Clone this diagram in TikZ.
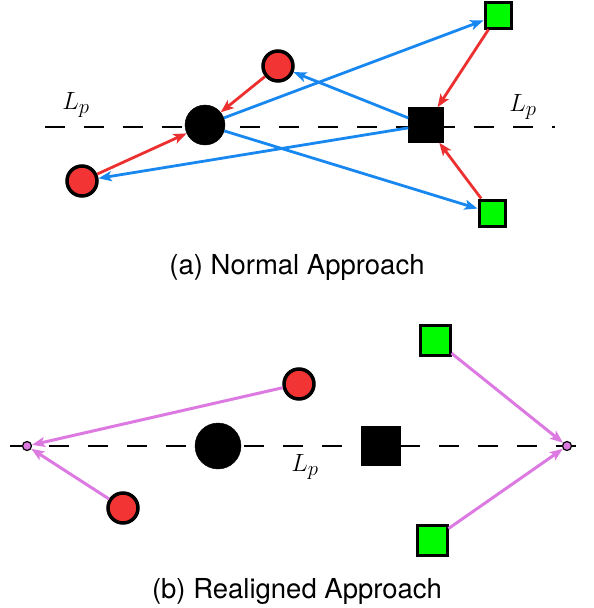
\documentclass[tikz,border=0pt]{standalone}
\usepackage{fontspec}
\setmainfont{TeX Gyre Heros}
\usetikzlibrary{arrows.meta}

\definecolor{ballred}{RGB}{242,52,52}
\definecolor{arrowred}{RGB}{236,48,48}
\definecolor{arrowblue}{RGB}{24,136,240}
\definecolor{boxgreen}{RGB}{0,250,0}
\definecolor{arrowpink}{RGB}{220,122,226}

\begin{document}
\begin{tikzpicture}
[
	              x = 1pt, y = -1pt,
	             >= {Stealth[length=13pt,width=10pt,inset=3pt]},
	   redball/.style = { draw=black, fill=ballred, circle, line width=3.5pt, inner sep=0pt, minimum size=30pt },
	  bigblack/.style = { draw=black, fill=black, circle, inner sep=0pt },
	  blackbox/.style = { draw=black, fill=black, rectangle, inner sep=0pt },
	  greenbox/.style = { draw=black, fill=boxgreen, rectangle, line width=3pt, inner sep=0pt },
	   pinkdot/.style = { draw=black, fill=arrowpink, circle, line width=1.2pt, inner sep=0pt, minimum size=9pt },
	      axis/.style = { line width=1.6pt, dash pattern=on 20pt off 19pt },
	  redarrow/.style = { ->, draw=arrowred, line width=2.8pt },
	 bluearrow/.style = { ->, draw=arrowblue, line width=2.8pt },
	 pinkarrow/.style = { ->, draw=arrowpink, line width=3pt },
	  linename/.style = { draw=none, fill=none, font=\fontsize{28}{28}\selectfont },
	   caption/.style = { draw=none, fill=none, font=\fontsize{27.5}{30}\selectfont }
]

    \useasboundingbox (0,0) rectangle (594,608);

    % (a) normal approach
    \coordinate (1LineStart)  at ( 45,127);
    \coordinate (1LineEnd)    at (555,127);
    \draw[axis] (1LineStart) -- (1LineEnd);

    \node (1LineNameLeft)     at ( 76,105) [linename]  {$L_p$};
    \node (1LineNameRight)    at (523,107) [linename]  {$L_p$};

    \node (1Circle)           at (205,125) [bigblack, minimum size=40pt] {};
    \node (1Square)           at (426,125) [blackbox, minimum size=35pt] {};

    \node (1RedTop)           at (278, 66) [redball]   {};
    \node (1RedBottom)        at ( 82,181) [redball]   {};

    \node (1GreenTop)         at (498, 15) [greenbox, minimum size=26pt] {};
    \node (1GreenBottom)      at (492,213) [greenbox, minimum size=26pt] {};

    \draw[redarrow]  (1RedTop)      -- (1Circle);
    \draw[redarrow]  (1RedBottom)   -- (1Circle);
    \draw[redarrow]  (1GreenTop)    -- (1Square);
    \draw[redarrow]  (1GreenBottom) -- (1Square);

    \draw[bluearrow] (1Circle) -- (1GreenTop);
    \draw[bluearrow] (1Circle) -- (1GreenBottom);
    \draw[bluearrow] (1Square) -- (1RedTop);
    \draw[bluearrow] (1Square) -- (1RedBottom);

    \node (1Caption)          at (297,267) [caption]   {(a) Normal Approach};

    % (b) realigned approach
    \coordinate (2LineStart)  at ( 10,446);
    \coordinate (2LineEnd)    at (582,446);
    \draw[axis] (2LineStart) -- (2LineEnd);

    \node (2LineName)         at (305,467) [linename]  {$L_p$};

    \node (2Circle)           at (218,446) [bigblack, minimum size=46pt] {};
    \node (2Square)           at (381,446) [blackbox, minimum size=39pt] {};

    \node (2RedTop)           at (299,384) [redball]   {};
    \node (2RedBottom)        at (123,508) [redball]   {};

    \node (2GreenTop)         at (435,340) [greenbox, minimum size=30pt] {};
    \node (2GreenBottom)      at (432,540) [greenbox, minimum size=30pt] {};

    \node (2LeftDot)          at ( 27,446) [pinkdot]   {};
    \node (2RightDot)         at (567,446) [pinkdot]   {};

    \draw[pinkarrow] (2RedTop)      -- (2LeftDot);
    \draw[pinkarrow] (2RedBottom)   -- (2LeftDot);
    \draw[pinkarrow] (2GreenTop)    -- (2RightDot);
    \draw[pinkarrow] (2GreenBottom) -- (2RightDot);

    \node (2Caption)          at (297,591) [caption]   {(b) Realigned Approach};

\end{tikzpicture}
\end{document}
